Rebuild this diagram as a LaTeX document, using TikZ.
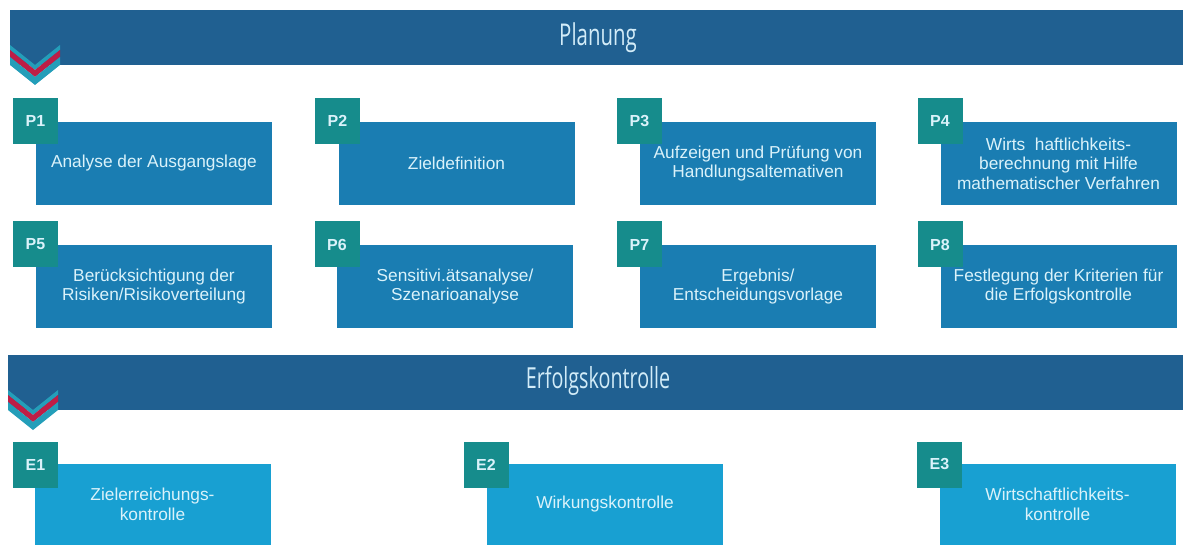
\documentclass[tikz,border=0pt]{standalone}
\usepackage{fontspec}
\setmainfont{Liberation Sans}
\newfontfamily\titlefont[FakeStretch=0.68]{Open Sans}
\definecolor{bannerblue}{RGB}{32,96,145}
\definecolor{pblue}{RGB}{26,125,178}
\definecolor{eblue}{RGB}{24,160,210}
\definecolor{tabteal}{RGB}{22,140,140}
\definecolor{chevteal}{RGB}{36,158,185}
\definecolor{chevred}{RGB}{190,30,70}
\definecolor{boxtext}{RGB}{218,242,250}
\definecolor{titletext}{RGB}{210,236,248}
\tikzset{
 banner/.style={fill=bannerblue, draw=none, minimum height=55pt, inner sep=0pt, anchor=north west},
 mainbox/.style={fill=pblue, minimum width=236pt, minimum height=83pt, inner sep=0pt, align=center, text=boxtext, font=\fontsize{17.3}{19.5}\selectfont},
 ebox/.style={mainbox, fill=eblue, minimum height=81pt},
 tabbox/.style={fill=tabteal, minimum width=45pt, minimum height=46pt, inner sep=0pt, text=boxtext, font=\bfseries\fontsize{16}{16}\selectfont},
 bannertitle/.style={text=titletext, inner sep=0pt, font=\titlefont\fontsize{30}{30}\selectfont},
 chevron/.pic={
  \fill[chevteal] (0,5)--(25,25)--(50,5)--(50,10)--(25,30)--(0,10)--cycle;
  \fill[chevred] (0,10)--(25,30)--(50,10)--(50,17)--(25,37)--(0,17)--cycle;
  \fill[chevteal] (0,17)--(25,37)--(50,17)--(50,25)--(25,45)--(0,25)--cycle;
 }
}
\begin{document}
\begin{tikzpicture}[x=1pt,y=-1pt]
\useasboundingbox (0,0) rectangle (1183,545);
% Banners
\node[banner, minimum width=1173pt] (b1) at (10,10) {};
\node[bannertitle] (t1) at (598,38) {Planung};
\pic at (10,40) {chevron};
\node[banner, minimum width=1175pt] (b2) at (8,355) {};
\node[bannertitle, font=\titlefont\fontsize{29}{29}\selectfont] (t2) at (598,381) {Erfolgskontrolle};
\pic at (8,385) {chevron};
% Row 1
\node[mainbox] (p1) at (154,163.5) {Analyse der Ausgangslage};
\node[tabbox] (p1t) at (35.5,121) {P1};
\node[mainbox] (p2) at (456.5,163.5) {Zieldefinition};
\node[tabbox] (p2t) at (337.5,121) {P2};
\node[mainbox] (p3) at (758,163.5) {Aufzeigen und Prüfung von\\Handlungsaltemativen};
\node[tabbox] (p3t) at (639.5,121) {P3};
\node[mainbox] (p4) at (1058.5,163.5) {Wirts\ \ haftlichkeits-\\berechnung mit Hilfe\\mathematischer Verfahren};
\node[tabbox] (p4t) at (940,121) {P4};
% Row 2
\node[mainbox] (p5) at (154,286.5) {Berücksichtigung der\\Risiken/Risikoverteilung};
\node[tabbox] (p5t) at (35.5,244.5) {P5};
\node[mainbox] (p6) at (455,286.5) {Sensitivi.ätsanalyse/\\Szenarioanalyse};
\node[tabbox] (p6t) at (337,244.5) {P6};
\node[mainbox] (p7) at (758,286.5) {Ergebnis/\\Entscheidungsvorlage};
\node[tabbox] (p7t) at (639.5,244.5) {P7};
\node[mainbox] (p8) at (1058.5,286.5) {Festlegung der Kriterien für\\die Erfolgskontrolle};
\node[tabbox] (p8t) at (940,244.5) {P8};
% Erfolgskontrolle row
\node[ebox] (e1) at (152.5,504.5) {Zielerreichungs-\\kontrolle};
\node[tabbox] (e1t) at (35.5,464.5) {E1};
\node[ebox] (e2) at (605,504.5) {Wirkungskontrolle};
\node[tabbox] (e2t) at (486,464.5) {E2};
\node[ebox] (e3) at (1057.5,504.5) {Wirtschaftlichkeits-\\kontrolle};
\node[tabbox] (e3t) at (939.5,464.5) {E3};
\end{tikzpicture}
\end{document}
